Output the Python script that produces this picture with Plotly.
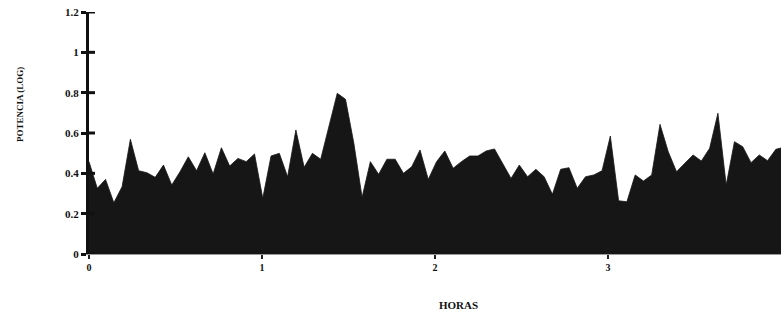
import numpy as np
import plotly.graph_objects as go

# Power (log) sampled every ~2.87 minutes over four hours
sample_minutes = 2.87
potencia = [
    0.458, 0.326, 0.370, 0.254, 0.334, 0.569, 0.413, 0.403, 0.380, 0.441,
    0.342, 0.408, 0.482, 0.413, 0.502, 0.397, 0.527, 0.436, 0.474, 0.458,
    0.496, 0.276, 0.486, 0.499, 0.383, 0.615, 0.430, 0.499, 0.470, 0.630,
    0.797, 0.767, 0.550, 0.281, 0.458, 0.395, 0.470, 0.470, 0.400, 0.433,
    0.516, 0.370, 0.458, 0.511, 0.425, 0.458, 0.486, 0.486, 0.511, 0.521,
    0.450, 0.375, 0.441, 0.383, 0.420, 0.383, 0.296, 0.420, 0.428, 0.326,
    0.383, 0.392, 0.413, 0.585, 0.264, 0.259, 0.392, 0.362, 0.392, 0.643,
    0.507, 0.408, 0.450, 0.491, 0.461, 0.524, 0.698, 0.342, 0.557, 0.532,
    0.453, 0.491, 0.463, 0.519, 0.530,
]
horas = np.arange(len(potencia)) * sample_minutes / 60.0

x_ticks = [0, 1, 2, 3]
y_ticks = [0, 0.2, 0.4, 0.6, 0.8, 1, 1.2]
y_tick_text = ["0", "0.2", "0.4", "0.6", "0.8", "1", "1.2"]

font_family = "Liberation Serif"
ink = "#161616"
text_col = "#111111"

fig = go.Figure()
fig.add_trace(go.Scatter(
    x=horas, y=potencia, mode="lines",
    fill="tozeroy", fillcolor=ink,
    line=dict(color=ink, width=0.8),
    hoverinfo="skip", showlegend=False,
))

fig.update_layout(
    width=781, height=320,
    margin=dict(l=89, r=0, t=12, b=66),
    plot_bgcolor="white", paper_bgcolor="white",
    font=dict(family=font_family, color=text_col),
    xaxis=dict(
        range=[0, 4.0], tickvals=x_ticks, ticktext=[str(v) for v in x_ticks],
        showgrid=False, zeroline=False,
        showline=True, linecolor="#9a9a9a", linewidth=1,
        ticks="outside", ticklen=4, tickwidth=2, tickcolor="#222222",
        tickfont=dict(family=font_family, size=10, color=text_col, weight="bold"),
    ),
    yaxis=dict(
        range=[0, 1.2], tickvals=y_ticks, ticktext=y_tick_text,
        showgrid=False, zeroline=False,
        showline=True, linecolor=text_col, linewidth=3,
        ticks="outside", ticklen=5, tickwidth=3, tickcolor=text_col,
        tickfont=dict(family=font_family, size=11, color=text_col, weight="bold"),
    ),
)

# inner half of each y tick, so the marks cross the axis line
for v in y_ticks:
    fig.add_shape(type="line", xref="paper", yref="y",
                  x0=0, x1=6 / 692, y0=v, y1=v,
                  line=dict(color=text_col, width=3), layer="above")

# axis titles
fig.add_annotation(text="<b>HORAS</b>", xref="paper", yref="paper",
                   x=(458 - 89) / 692, y=-(305 - 254) / 242,
                   showarrow=False, xanchor="center", yanchor="middle",
                   font=dict(family=font_family, size=11, color=text_col))
fig.add_annotation(text="<b>POTENCIA (LOG)</b>", xref="paper", yref="paper",
                   x=-(89 - 20) / 692, y=(254 - 105) / 242, textangle=-90,
                   showarrow=False, xanchor="center", yanchor="middle",
                   font=dict(family=font_family, size=9, color=text_col))

fig.write_html("out.html")
